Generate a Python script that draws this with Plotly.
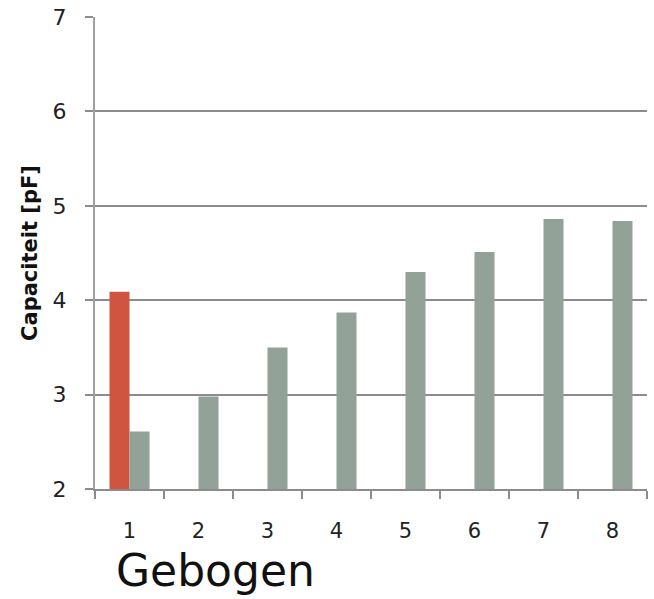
import plotly.graph_objects as go

categories = ["1", "2", "3", "4", "5", "6", "7", "8"]
red_values = [4.09, None, None, None, None, None, None, None]
gray_values = [2.61, 2.98, 3.50, 3.87, 4.30, 4.51, 4.86, 4.84]
y_ticks = [2, 3, 4, 5, 6, 7]

FONT = "DejaVu Sans, sans-serif"

fig = go.Figure()
fig.add_trace(go.Bar(x=categories, y=red_values, marker=dict(color="#CF5540", line=dict(width=0))))
fig.add_trace(go.Bar(x=categories, y=gray_values, marker=dict(color="#93A298", line=dict(width=0))))

fig.update_layout(
    width=654, height=599,
    margin=dict(l=95, r=7, t=17, b=110),
    plot_bgcolor="white", paper_bgcolor="white",
    barmode="group", bargap=0.42, bargroupgap=0,
    showlegend=False,
    font=dict(family=FONT, color="#222"),
)
fig.update_xaxes(
    type="category", tickson="boundaries", ticks="outside", ticklen=8, tickwidth=2, tickcolor="#8c8c8c",
    showline=True, linecolor="#8c8c8c", linewidth=2, showgrid=False, automargin=False,
    tickfont=dict(size=21, color="#222", family=FONT), ticklabelstandoff=22,
)
fig.update_yaxes(
    range=[2, 7], tickvals=y_ticks, ticks="outside", ticklen=8, tickwidth=2, tickcolor="#8c8c8c",
    showline=True, linecolor="#a0a0a0", linewidth=2, automargin=False,
    showgrid=True, gridcolor="#8c8c8c", gridwidth=2, zeroline=False,
    tickfont=dict(size=22, color="#222", family=FONT), ticklabelstandoff=14,
    title=dict(text="<b>Capaciteit [pF]</b>", font=dict(size=21, color="#111", family=FONT), standoff=9),
)
fig.add_annotation(
    text="Gebogen", xref="paper", yref="paper", x=(114 - 95) / 552, y=-(570 - 489) / 472,
    xanchor="left", yanchor="middle", showarrow=False,
    font=dict(size=44, color="#111", family=FONT),
)
fig.write_html(
    "out.html",
    config={"displayModeBar": False},
    post_script="document.body.style.margin='0';document.body.style.overflow='hidden';",
)
